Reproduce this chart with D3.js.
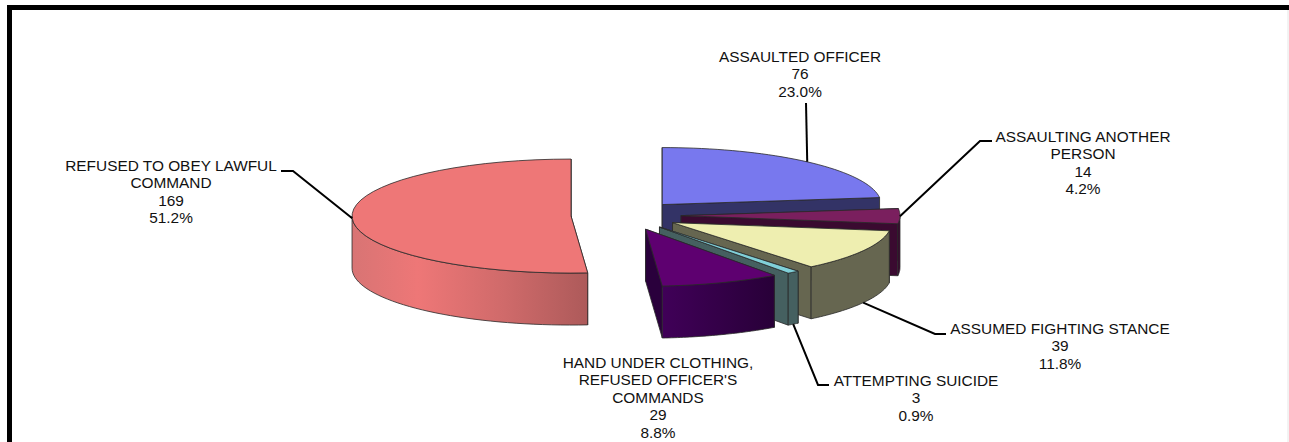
<!DOCTYPE html>
<html><head><meta charset="utf-8">
<script src="https://cdn.jsdelivr.net/npm/d3@7/dist/d3.min.js"></script>
<style>html,body{margin:0;padding:0;background:#fff}svg{display:block}text{font-family:"Liberation Sans",Arial,sans-serif;font-size:15.4px;fill:#111}</style>
</head><body><script>
const categories=["ASSAULTED OFFICER","ASSAULTING ANOTHER PERSON","ASSUMED FIGHTING STANCE","ATTEMPTING SUICIDE","HAND UNDER CLOTHING, REFUSED OFFICER'S COMMANDS","REFUSED TO OBEY LAWFUL COMMAND"];
const values=[76,14,39,3,29,169];
const percents=["23.0%","4.2%","11.8%","0.9%","8.8%","51.2%"];
const labelLines=[["ASSAULTED OFFICER"],["ASSAULTING ANOTHER","PERSON"],["ASSUMED FIGHTING STANCE"],["ATTEMPTING SUICIDE"],["HAND UNDER CLOTHING,","REFUSED OFFICER'S","COMMANDS"],["REFUSED TO OBEY LAWFUL","COMMAND"]];
const topColors=["#7878ee","#7a1f5e","#eeeeb0","#80d0d8","#5e0070","#ee7777"];
const wallStops=[["#333366","#333366"],["#3a0a30","#3a0a30"],["#666650","#666650"],["#456060","#456060"],["#280038","#400058"],["#d87474","#ee7777","#ad5a5a"]];
const cutColors=["#333366","#3a0a30","#666650","#456060","#2a003c","#ad5a5a"];
const labelCx=[800,1083,1060,916,658,171];
const labelMidY=[56,136,328,380,362,165];
const leaderEnd=[[806,103],[980,141],[935,334],[818,385],null,[293,171]];
const leaderTail=[null,[992,141],[946,334],[829,385],null,[281,171]];
const leaderOnWall=[false,false,true,true,false,false];
const nudgeX=[1,1.5,0,1,1.5,-0.5];

const W=1289,H=442,cx=625.5,cy=215.5,rx=219,ry=57,depth=52,explode=54,explodeY=0.27,lh=17.5;
const svg=d3.select("body").append("svg").attr("width",W).attr("height",H);
const defs=svg.append("defs");
svg.append("path").attr("d",d3.line()([[9.5,H+5],[9.5,7.5],[W+5,7.5]])).attr("fill","none").attr("stroke","#000").attr("stroke-width",5);
svg.append("line").attr("x1",W-1).attr("x2",W-1).attr("y1",10).attr("y2",H).attr("stroke","#e6e6e6");

const arcs=d3.pie().sort(null).startAngle(0).endAngle(2*Math.PI)(values);
const rx2=d3.scaleLinear().domain([0,1]).range([0,rx]);
const ry2=d3.scaleLinear().domain([0,1]).range([0,ry]);
const slices=arcs.map((a,i)=>{const mid=(a.startAngle+a.endAngle)/2;
  return {i,a0:a.startAngle,a1:a.endAngle,mid,x:cx+nudgeX[i]+explode*Math.sin(mid),y:cy-explode*explodeY*Math.cos(mid)};});
const rim=(s,t,d=0)=>[s.x+rx2(Math.sin(t)),s.y-ry2(Math.cos(t))+d];
const samples=(a,b)=>d3.range(0,41).map(k=>a+(b-a)*k/40);
const ln=d3.line();
const stroke={stroke:"#2a2a2a","stroke-width":0.8,"stroke-linejoin":"round"};
function face(g,pts,fill){const p=g.append("path").attr("d",ln(pts)+"Z").attr("fill",fill);Object.entries(stroke).forEach(([k,v])=>p.attr(k,v));}
const order=[5,0,1,2,3,4];
order.forEach(i=>{const s=slices[i],g=svg.append("g");
  [s.a0,s.a1].forEach(t=>{const r=rim(s,t);face(g,[[s.x,s.y],r,[r[0],r[1]+depth],[s.x,s.y+depth]],cutColors[i]);});
  const w0=Math.max(s.a0,Math.PI/2),w1=Math.min(s.a1,3*Math.PI/2);
  if(w1>w0){const pts=samples(w0,w1);
    const xs=pts.map(t=>rim(s,t)[0]);
    const gr=defs.append("linearGradient").attr("id","w"+i).attr("gradientUnits","userSpaceOnUse").attr("x1",d3.max(xs)).attr("x2",d3.min(xs)).attr("y1",0).attr("y2",0);
    const st=wallStops[i];
    const seq=i===5?[[0,st[2]],[0.35,"#cf6a6a"],[0.72,st[1]],[1,st[0]]]:st.map((c,k)=>[k/(st.length-1),c]);
    seq.forEach(([o,c])=>gr.append("stop").attr("offset",o).attr("stop-color",c));
    face(g,[...pts.map(t=>rim(s,t)),...pts.slice().reverse().map(t=>rim(s,t,depth))],`url(#w${i})`);}
  face(g,[[s.x,s.y],...samples(s.a0,s.a1).map(t=>rim(s,t))],topColors[i]);
});
slices.forEach(s=>{if(!leaderEnd[s.i])return;
  const p=[rim(s,s.mid,leaderOnWall[s.i]?depth:0),leaderEnd[s.i]];
  if(leaderTail[s.i])p.push(leaderTail[s.i]);
  svg.append("path").attr("d",ln(p)).attr("fill","none").attr("stroke","#000").attr("stroke-width",2);});
categories.forEach((c,i)=>{
  const lines=[...labelLines[i],String(values[i]),percents[i]];
  const t=svg.append("text").attr("text-anchor","middle");
  lines.forEach((l,k)=>t.append("tspan").attr("x",labelCx[i]).attr("y",labelMidY[i]+5.5+k*lh).text(l));
});
</script></body></html>
